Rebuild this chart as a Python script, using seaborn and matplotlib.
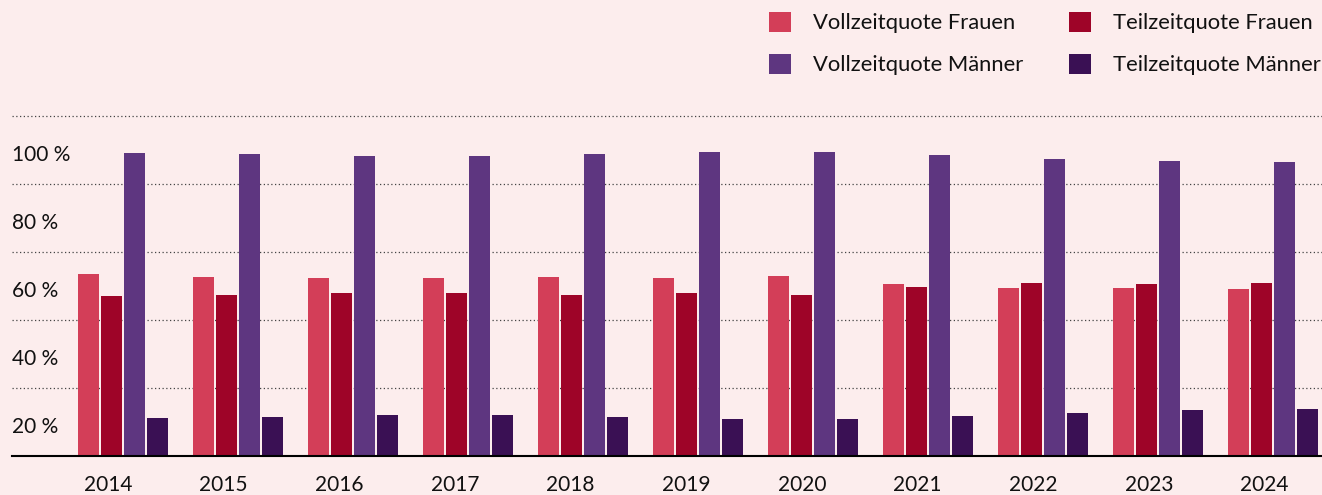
import pandas as pd
import matplotlib.pyplot as plt
import matplotlib.transforms as mtransforms
import seaborn as sns

# Werte (in %)
jahre = ["2014", "2015", "2016", "2017", "2018", "2019", "2020", "2021", "2022", "2023", "2024"]
vollzeit_frauen = [53.4, 52.6, 52.3, 52.3, 52.6, 52.3, 52.9, 50.5, 49.3, 49.3, 49.0]
teilzeit_frauen = [47.1, 47.5, 47.8, 47.8, 47.5, 47.8, 47.3, 49.6, 50.8, 50.5, 51.0]
vollzeit_maenner = [89.1, 88.7, 88.1, 88.1, 88.7, 89.3, 89.3, 88.4, 87.3, 86.7, 86.4]
teilzeit_maenner = [11.2, 11.5, 12.0, 12.0, 11.4, 10.8, 10.8, 11.7, 12.6, 13.4, 13.7]
reihen = ["Vollzeitquote Frauen", "Teilzeitquote Frauen", "Vollzeitquote Männer", "Teilzeitquote Männer"]
farben = ["#D33E58", "#9E0428", "#5E3680", "#3A1054"]
y_ticks = [20, 40, 60, 80, 100]
y_labels = ["20 %", "40 %", "60 %", "80 %", "100 %"]

# Long-Format fuer seaborn
werte = [vollzeit_frauen, teilzeit_frauen, vollzeit_maenner, teilzeit_maenner]
df = pd.DataFrame(
    [(j, r, w[i]) for r, w in zip(reihen, werte) for i, j in enumerate(jahre)],
    columns=["Jahr", "Reihe", "Wert"],
)

bg = "#FCEDED"
sns.set_style("white")
plt.rcParams["font.family"] = ["Lato", "DejaVu Sans"]

fig = plt.figure(figsize=(13.22, 4.95), dpi=100, facecolor=bg)
ax = fig.add_axes([12 / 1322, 39 / 495, 1 - 12 / 1322, (456 - 112.6) / 495])
ax.set_facecolor(bg)

sns.barplot(
    data=df, x="Jahr", y="Wert", hue="Reihe", hue_order=reihen,
    palette=farben, saturation=1, width=0.8, gap=0.09, linewidth=0,
    ax=ax, zorder=3,
)

ax.set_ylim(0, 101)
ax.set_xlim(-0.965, 10.43)

# gepunktete Hilfslinien
for v in y_ticks:
    ax.axhline(v, color="#444444", linewidth=0.9, linestyle=(0, (1, 2)), zorder=1)

# Y-Beschriftung unterhalb der Linien
ax.set_yticks([])
trans = mtransforms.offset_copy(
    mtransforms.blended_transform_factory(ax.transAxes, ax.transData),
    fig=fig, x=0, y=-39, units="dots",
)
for v, lab in zip(y_ticks, y_labels):
    ax.text(0, v, lab, transform=trans, ha="left", va="center", fontsize=15, color="#111111")

# Jahresbeschriftung leicht links von der Gruppenmitte
ax.set_xticks([i - 0.13 + 0.006 * i for i in range(len(jahre))], jahre)
ax.set_xlabel("")
ax.set_ylabel("")
ax.tick_params(axis="x", length=0, pad=14, labelsize=15, labelcolor="#111111")

for s in ["top", "left", "right"]:
    ax.spines[s].set_visible(False)
ax.spines["bottom"].set_color("black")
ax.spines["bottom"].set_linewidth(1.5)
ax.spines["bottom"].set_zorder(4)

handles, labels = ax.get_legend_handles_labels()
ax.legend_.remove()
order = [0, 2, 1, 3]  # zeilenweise Anordnung wie im Original
fig.legend(
    [handles[i] for i in order], [labels[i] for i in order],
    loc="upper right", bbox_to_anchor=(1.0 + 10 / 1322, 0.998),
    ncol=2, frameon=False, fontsize=15.8, handlelength=1.0, handleheight=1.0,
    handletextpad=1.0, labelspacing=0.95, columnspacing=2.1, borderpad=0.0,
    labelcolor="#111111",
)

fig.savefig("out.png", dpi=100, facecolor=bg)
